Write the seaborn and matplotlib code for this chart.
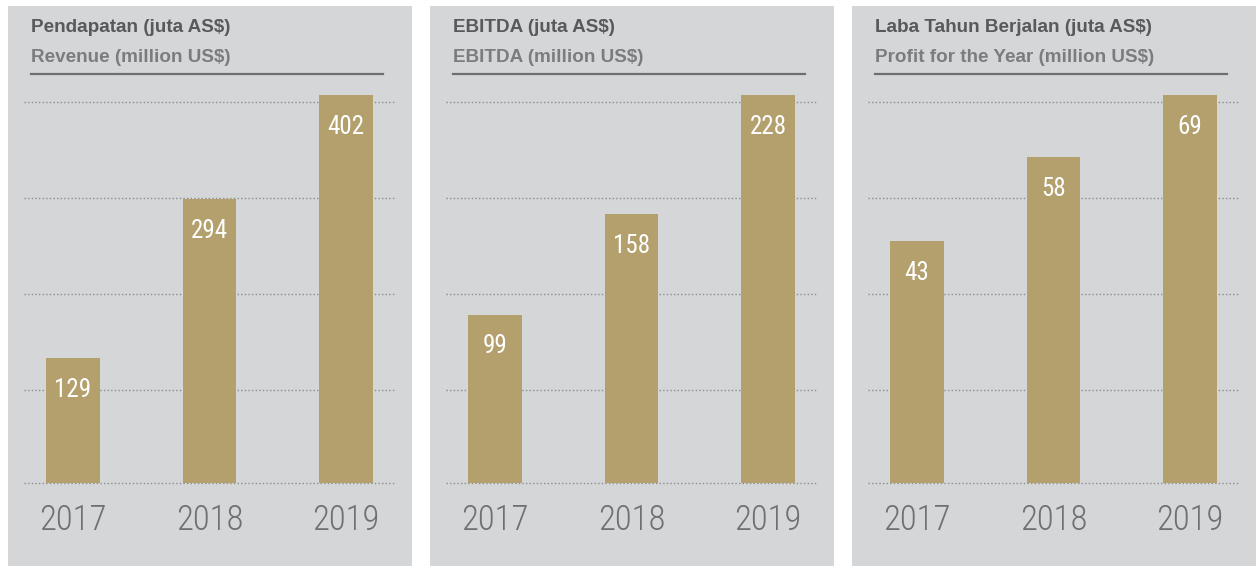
import matplotlib
matplotlib.use('Agg')
import matplotlib.pyplot as plt
import seaborn as sns
from matplotlib import font_manager
from matplotlib.patches import Rectangle
from matplotlib.lines import Line2D

# Data
years = ['2017', '2018', '2019']
revenue = [129, 294, 402]
ebitda = [99, 158, 228]
profit = [43, 58, 69]
titles_id = ['Pendapatan (juta AS$)', 'EBITDA (juta AS$)', 'Laba Tahun Berjalan (juta AS$)']
titles_en = ['Revenue (million US$)', 'EBITDA (million US$)', 'Profit for the Year (million US$)']

# Colours
panel_bg = '#d5d6d8'
bar_color = '#b4a06d'
title_dark = '#58595b'
title_light = '#7b7c7e'
year_color = '#6f7072'
grid_color = '#8c8c8c'

# pick a narrow face for the numbers if one is around
names = {f.name for f in font_manager.fontManager.ttflist}
narrow = 'DejaVu Sans'
narrow_stretch = 'normal'
for cand in ['Roboto Condensed', 'Liberation Sans Narrow', 'Open Sans Condensed', 'Noto Sans Condensed']:
    if cand in names:
        narrow = cand
        break
else:
    cond = [f for f in font_manager.fontManager.ttflist if f.stretch in ('condensed', 'semi-condensed', 'extra-condensed')]
    if cond:
        narrow = cond[0].name
        narrow_stretch = cond[0].stretch

W, H = 1258, 566
fig = plt.figure(figsize=(W / 100, H / 100), dpi=100, facecolor='white')

grid_fracs = [0, 0.240, 0.487, 0.7345, 0.982]

for i, (vals, t1, t2) in enumerate(zip([revenue, ebitda, profit], titles_id, titles_en)):
    px = 8 + 422 * i
    # gray panel
    fig.add_artist(Rectangle((px / W, 0), 404 / W, (H - 6) / H, transform=fig.transFigure,
                             facecolor=panel_bg, edgecolor='none', zorder=0))
    fig.text((px + 23) / W, 1 - 28 / H, t1, ha='left', va='center', fontsize=13.6,
             fontweight='bold', color=title_dark, family='Liberation Sans')
    fig.text((px + 23) / W, 1 - 57 / H, t2, ha='left', va='center', fontsize=13.6,
             fontweight='bold', color=title_light, family='Liberation Sans')
    fig.add_artist(Line2D([(px + 23) / W, (px + 375) / W], [1 - 73.5 / H] * 2,
                          transform=fig.transFigure, color='#6d6e70', lw=1.6))

    ax = fig.add_axes([(px + 16) / W, (H - 483) / H, 372 / W, 388 / H])
    ax.set_facecolor('none')
    sns.barplot(x=years, y=vals, ax=ax, color=bar_color, saturation=1, width=0.395, zorder=3)
    ax.set_xlim(-0.359, 2.366)
    ymax = max(vals)
    ax.set_ylim(0, ymax)
    ax.set_yticks([f * ymax for f in grid_fracs])
    ax.yaxis.grid(True, linestyle=(0, (1, 1.6)), color=grid_color, lw=1.0)
    for gl in ax.get_ygridlines():
        gl.set_clip_on(False)
    ax.xaxis.grid(False)
    ax.set_axisbelow(True)
    ax.tick_params(axis='y', left=False, labelleft=False)
    ax.tick_params(axis='x', length=0, pad=15)
    for s in ax.spines.values():
        s.set_visible(False)
    ax.set_xlabel('')
    ax.set_ylabel('')
    for lbl in ax.get_xticklabels():
        lbl.set_fontfamily(narrow)
        lbl.set_fontstretch(narrow_stretch)
        lbl.set_fontweight('light')
        lbl.set_fontsize(25)
        lbl.set_color(year_color)
    for j, v in enumerate(vals):
        ax.annotate(str(v), (j, v), xytext=(0, -23), textcoords='offset points',
                    ha='center', va='center', color='white', fontsize=18,
                    family=narrow, fontstretch=narrow_stretch, zorder=5)

fig.savefig('out.png', dpi=100, facecolor='white')
